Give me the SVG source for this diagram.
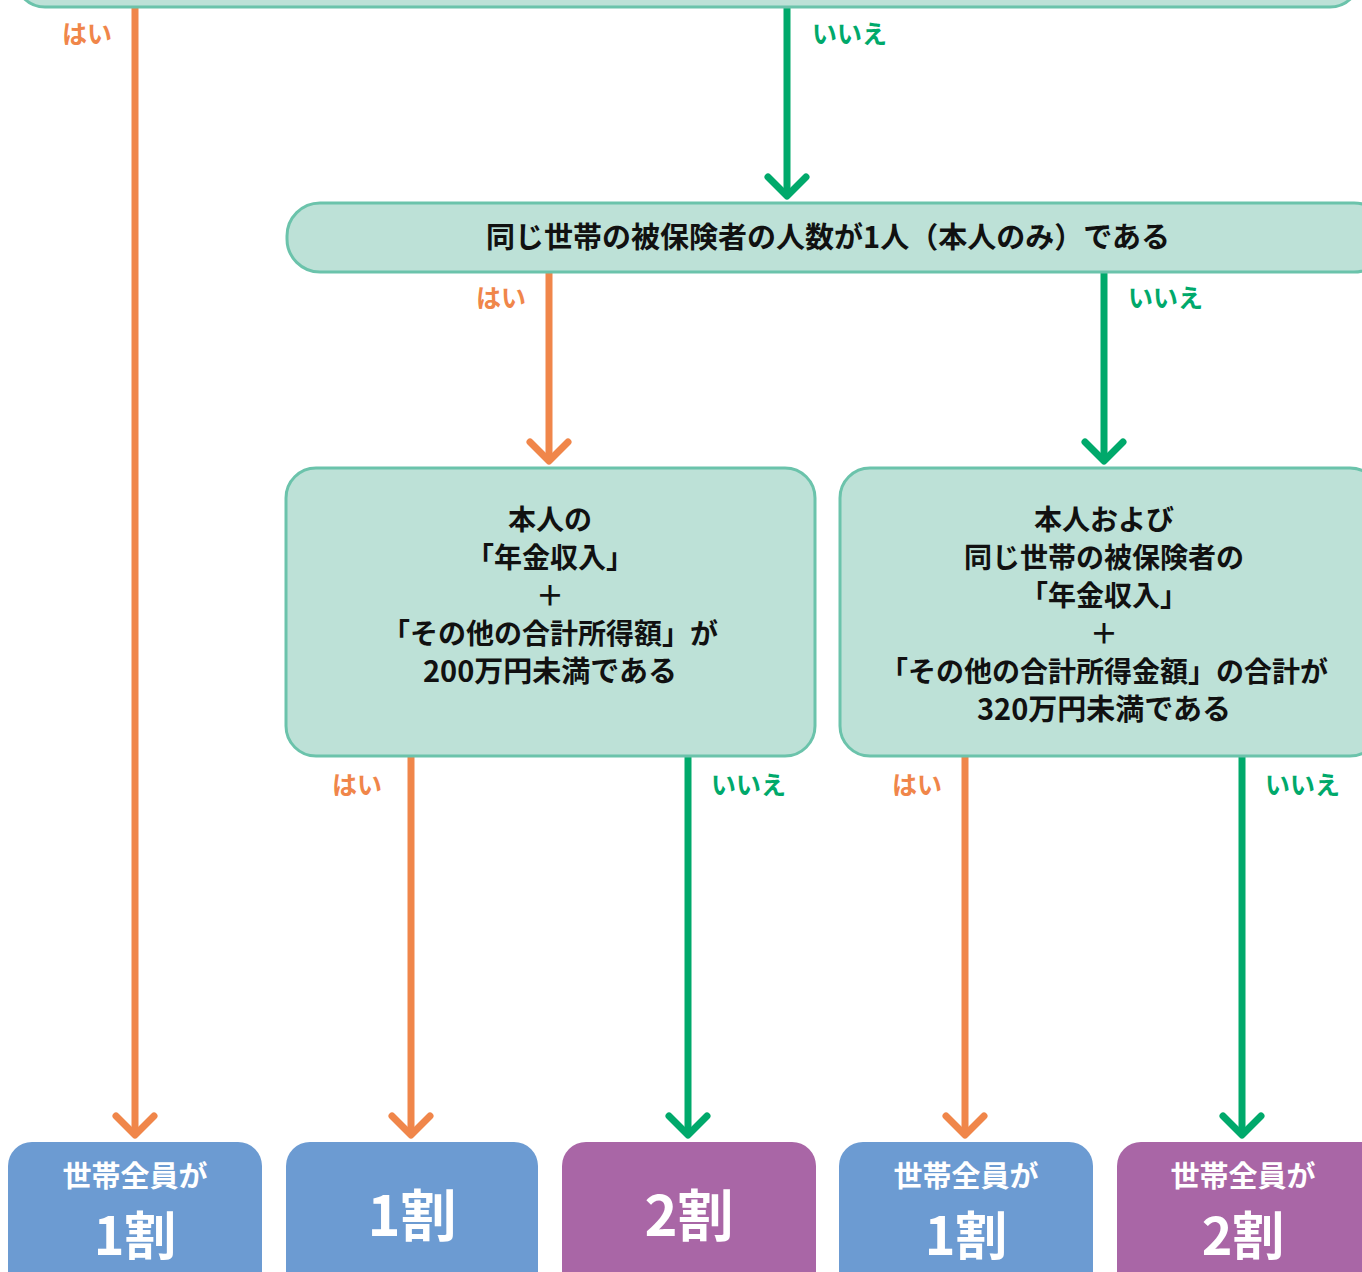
<svg xmlns="http://www.w3.org/2000/svg" width="1362" height="1272" viewBox="0 0 1362 1272">
<defs>
<style>
.q{fill:#BDE1D7;stroke:#6BC3AB;stroke-width:3}
.t{font-family:"Noto Sans CJK JP","Noto Sans",sans-serif;font-weight:bold;font-size:28px;fill:#111;text-anchor:middle}
.w{font-family:"Noto Sans CJK JP","Noto Sans",sans-serif;font-weight:bold;fill:#fff;text-anchor:middle}
.lb{font-family:"Noto Sans CJK JP","Noto Sans",sans-serif;font-weight:bold;font-size:25px}
.yes{fill:#F0864A}
.no{fill:#00A96B}
.lo{stroke:#F0864A;stroke-width:7;fill:none}
.lg{stroke:#00A96B;stroke-width:7;fill:none}
.hd{stroke-linecap:round;stroke-linejoin:round}
.blue{fill:#6C9BD2}
.purple{fill:#A966A6}
</style>
</defs>
<rect width="1362" height="1272" fill="#fff"/>
<g id="connectors">
<path class="lo" d="M135,7 V1133"/><path class="lo hd" d="M116,1116 L135,1135 L154,1116"/>
<path class="lg" d="M787,7 V194"/><path class="lg hd" d="M768,177 L787,196 L806,177"/>
<path class="lo" d="M549,272 V458"/><path class="lo hd" d="M530,442 L549,461 L568,442"/>
<path class="lg" d="M1104,272 V458"/><path class="lg hd" d="M1085,442 L1104,461 L1123,442"/>
<path class="lo" d="M411,756 V1133"/><path class="lo hd" d="M392,1116 L411,1135 L430,1116"/>
<path class="lg" d="M688,756 V1133"/><path class="lg hd" d="M669,1116 L688,1135 L707,1116"/>
<path class="lo" d="M965,756 V1133"/><path class="lo hd" d="M946,1116 L965,1135 L984,1116"/>
<path class="lg" d="M1242,756 V1133"/><path class="lg hd" d="M1223,1116 L1242,1135 L1261,1116"/>
<text class="lb yes" x="112" y="43" text-anchor="end">はい</text>
<text class="lb no" x="812" y="43">いいえ</text>
<text class="lb yes" x="526" y="307" text-anchor="end">はい</text>
<text class="lb no" x="1128" y="307">いいえ</text>
<text class="lb yes" x="382" y="794" text-anchor="end">はい</text>
<text class="lb no" x="711" y="794">いいえ</text>
<text class="lb yes" x="942" y="794" text-anchor="end">はい</text>
<text class="lb no" x="1265" y="794">いいえ</text>
</g>
<g id="node-top">
<rect class="q" x="15" y="-60" width="1345" height="67" rx="30"/>
</g>
<g id="node-single">
<rect class="q" x="287" y="203" width="1100" height="69" rx="33"/>
<text class="t" x="828" y="248" style="font-size:29px">同じ世帯の被保険者の人数が1人（本人のみ）である</text>
</g>
<g id="node-left">
<rect class="q" x="286" y="468" width="529" height="288" rx="30"/>
<text class="t" x="550" y="530">本人の</text>
<text class="t" x="550" y="568">「年金収入」</text>
<text class="t" x="550" y="606">＋</text>
<text class="t" x="550" y="644">「その他の合計所得額」が</text>
<text class="t" x="550" y="682" style="font-size:29px">200万円未満である</text>
</g>
<g id="node-right">
<rect class="q" x="840" y="468" width="540" height="288" rx="30"/>
<text class="t" x="1104" y="530">本人および</text>
<text class="t" x="1104" y="568">同じ世帯の被保険者の</text>
<text class="t" x="1104" y="606">「年金収入」</text>
<text class="t" x="1104" y="644">＋</text>
<text class="t" x="1104" y="682">「その他の合計所得金額」の合計が</text>
<text class="t" x="1104" y="720" style="font-size:29px">320万円未満である</text>
</g>
<g id="result-1">
<rect class="blue" x="8" y="1142" width="254" height="170" rx="24"/>
<text class="w" x="135" y="1187" font-size="29">世帯全員が</text>
<text class="w" x="135" y="1255" font-size="52">1割</text>
</g>
<g id="result-2">
<rect class="blue" x="286" y="1142" width="252" height="170" rx="24"/>
<text class="w" x="412" y="1236" font-size="56">1割</text>
</g>
<g id="result-3">
<rect class="purple" x="562" y="1142" width="254" height="170" rx="24"/>
<text class="w" x="689" y="1236" font-size="56">2割</text>
</g>
<g id="result-4">
<rect class="blue" x="839" y="1142" width="254" height="170" rx="24"/>
<text class="w" x="966" y="1187" font-size="29">世帯全員が</text>
<text class="w" x="966" y="1255" font-size="52">1割</text>
</g>
<g id="result-5">
<rect class="purple" x="1117" y="1142" width="270" height="170" rx="24"/>
<text class="w" x="1243" y="1187" font-size="29">世帯全員が</text>
<text class="w" x="1243" y="1255" font-size="52">2割</text>
</g>
</svg>
